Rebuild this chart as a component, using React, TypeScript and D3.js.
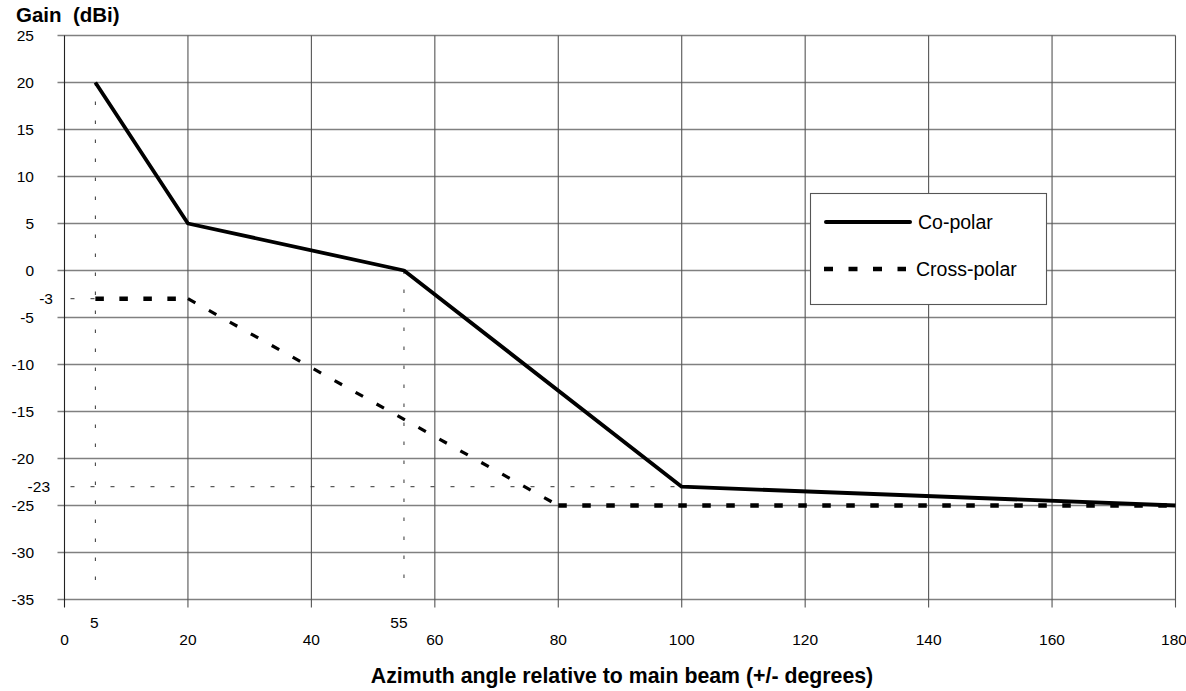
import React from "react";
import * as d3 from "d3";

const xTicks = [0, 20, 40, 60, 80, 100, 120, 140, 160, 180];
const yTicks = [25, 20, 15, 10, 5, 0, -5, -10, -15, -20, -25, -30, -35];
const coPolarX = [5, 20, 55, 100, 180];
const coPolarY = [20, 5, 0, -23, -25];
const crossPolarX = [5, 20, 80, 180];
const crossPolarY = [-3, -3, -25, -25];
const refAngles = [5, 55];
const refAngleTop = [20, 0];
const refGains = [-3, -23];
const refGainRight = [5, 100];
const seriesNames = ["Co-polar", "Cross-polar"];

const W = 1186;
const H = 691;
const FONT = "'Liberation Sans', Arial, sans-serif";

export default function App() {
  const x = d3.scaleLinear().domain([0, 180]).range([64.5, 1175.5]);
  const y = d3.scaleLinear().domain([25, -35]).range([35.5, 599.5]);
  const line = d3
    .line<[number, number]>()
    .x((d) => x(d[0]))
    .y((d) => y(d[1]));
  const co: [number, number][] = coPolarX.map((v, i) => [v, coPolarY[i]]);
  const cross: [number, number][] = crossPolarX.map((v, i) => [v, crossPolarY[i]]);
  const crossSegs = cross.slice(1).map((p, i) => [cross[i], p] as [number, number][]);
  const yBottom = y(-35) - 9;

  return (
    <svg
      width={W}
      height={H}
      style={{ position: "absolute", left: 0, top: 0, background: "#fff" }}
      fontFamily={FONT}
    >
      <rect x={0} y={0} width={W} height={H} fill="#fff" />
      {/* horizontal gridlines */}
      {yTicks.map((t) => (
        <line key={"h" + t} x1={x(0) - 7} x2={x(180)} y1={y(t)} y2={y(t)} stroke="#808080" strokeWidth={1.3} />
      ))}
      {/* vertical gridlines */}
      {xTicks.map((t) => (
        <line key={"v" + t} x1={x(t)} x2={x(t)} y1={y(25)} y2={y(-35) + 8} stroke={t === 0 ? "#222" : "#555"} strokeWidth={1.1} />
      ))}
      {/* y tick labels */}
      {yTicks.map((t) => (
        <text key={"yl" + t} x={34} y={y(t)} dy="0.35em" textAnchor="end" fontSize={15.5} fill="#000">
          {t}
        </text>
      ))}
      {/* x tick labels */}
      {xTicks.map((t) => (
        <text key={"xl" + t} x={t === 180 ? x(t) - 1.5 : x(t)} y={645} textAnchor="middle" fontSize={15.5} fill="#000">
          {t}
        </text>
      ))}
      {/* reference dotted lines */}
      {refAngles.map((a, i) => (
        <line key={"ra" + a} x1={x(a)} x2={x(a)} y1={y(refAngleTop[i])} y2={yBottom} stroke="#333" strokeWidth={1} strokeDasharray="3.5,15.5" />
      ))}
      {refGains.map((g, i) => (
        <line key={"rg" + g} x1={x(0) + 6} x2={x(refGainRight[i])} y1={y(g)} y2={y(g)} stroke="#333" strokeWidth={1} strokeDasharray="4,16" />
      ))}
      {refGains.map((g, i) => (
        <text key={"rgl" + g} x={i === 0 ? 53 : 50} y={y(g)} dy="0.35em" textAnchor="end" fontSize={15.5}>
          {g}
        </text>
      ))}
      {refAngles.map((a, i) => (
        <text key={"ral" + a} x={x(a) - (i === 0 ? 1 : 5)} y={628} textAnchor="middle" fontSize={15.5}>
          {a}
        </text>
      ))}
      {/* series */}
      {crossSegs.map((s, i) => (
        <path
          key={"cs" + i}
          d={line(s) || ""}
          fill="none"
          stroke="#000"
          strokeWidth={s[0][1] === s[1][1] ? 4.5 : 3.2}
          strokeDasharray="8.5,15.5"
        />
      ))}
      <path d={line(co) || ""} fill="none" stroke="#000" strokeWidth={3.8} strokeLinejoin="round" />
      {/* legend */}
      <rect x={810.5} y={193.5} width={236} height={111} fill="#fff" stroke="#555" strokeWidth={1.1} />
      <line x1={826} x2={910} y1={222} y2={222} stroke="#000" strokeWidth={4} strokeLinecap="round" />
      <text x={918} y={222} dy="0.35em" fontSize={19.5}>
        {seriesNames[0]}
      </text>
      <line x1={824} x2={906} y1={269} y2={269} stroke="#000" strokeWidth={4.5} strokeDasharray="9,15.5" />
      <text x={916} y={269} dy="0.35em" fontSize={19.5}>
        {seriesNames[1]}
      </text>
      {/* titles */}
      <text x={16} y={22} fontSize={20.5} fontWeight="bold" style={{ whiteSpace: "pre" }}>
        {"Gain  (dBi)"}
      </text>
      <text x={622} y={683} textAnchor="middle" fontSize={21.3} fontWeight="bold">
        Azimuth angle relative to main beam (+/- degrees)
      </text>
    </svg>
  );
}
